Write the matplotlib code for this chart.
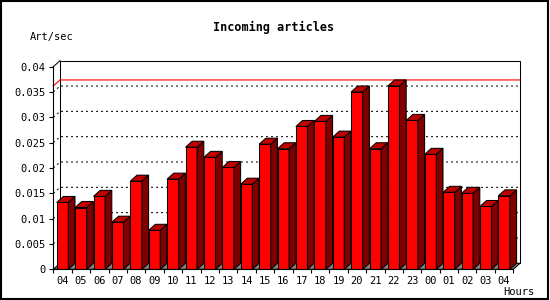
import matplotlib.pyplot as plt
from matplotlib.patches import Polygon, Rectangle
import numpy as np

# hourly values
hours = ["04", "05", "06", "07", "08", "09", "10", "11", "12", "13", "14", "15",
         "16", "17", "18", "19", "20", "21", "22", "23", "00", "01", "02", "03", "04"]
rates = [0.0132, 0.0122, 0.0144, 0.0093, 0.0174, 0.0077, 0.0178, 0.0241, 0.0221,
         0.0201, 0.0168, 0.0247, 0.0238, 0.0282, 0.0292, 0.0261, 0.0350, 0.0238,
         0.0362, 0.0294, 0.0227, 0.0152, 0.0150, 0.0124, 0.0145]
yticks = [0, 0.005, 0.01, 0.015, 0.02, 0.025, 0.03, 0.035, 0.04]
ytick_labels = ["0", "0.005", "0.01", "0.015", "0.02", "0.025", "0.03", "0.035", "0.04"]

FONT = "DejaVu Sans Mono"
W, H = 550, 300
fig = plt.figure(figsize=(5.5, 3), dpi=100)

# front plane of the 3d box in pixels
left, right, top, bottom = 53.3, 513.3, 66.7, 269.3
ax = fig.add_axes([left / W, (H - bottom) / H, (right - left) / W, (bottom - top) / H])
n = len(hours)
ymax = 0.04
ax.set_xlim(-0.5, n - 0.5)
ax.set_ylim(0, ymax)

# depth of the 3d effect, converted to data units
depth_px_x, depth_px_y = 6.7, 6.0
dx = depth_px_x * n / (right - left)
dy = depth_px_y * ymax / (bottom - top)
x0, x1 = -0.5, n - 0.5
LW = 0.75

# floor
floor = Polygon([(x0, 0), (x1, 0), (x1 + dx, dy), (x0 + dx, dy)], closed=True,
                facecolor="#808080", edgecolor="black", lw=LW, clip_on=False, zorder=1)
ax.add_patch(floor)
# back wall
ax.add_patch(Rectangle((x0 + dx, dy), x1 - x0, ymax, facecolor="white", edgecolor="black",
                       lw=LW, clip_on=False, zorder=0.5))
ax.plot([x0, x0 + dx], [ymax, ymax + dy], color="black", lw=LW, clip_on=False, zorder=2)

# dashed grid on back wall and left wall
for v in yticks[1:-1]:
    ax.plot([x0, x0 + dx, x1 + dx], [v, v + dy, v + dy], color="black", lw=0.72,
            dashes=(2, 3), clip_on=False, zorder=1.5)

# line at the maximum
peak = max(rates)
ax.plot([x0, x0 + dx, x1 + dx], [peak, peak + dy, peak + dy], color="red", lw=0.8,
        clip_on=False, zorder=1.6)

bw = 0.63
xs = np.arange(n)
for i, v in enumerate(rates):
    xl, xr = xs[i] - bw / 2, xs[i] + bw / 2
    ax.bar(xs[i], v, width=bw, color="#ff0000", edgecolor="black", lw=LW, zorder=3)
    side = Polygon([(xr, 0), (xr + dx, dy), (xr + dx, v + dy), (xr, v)], closed=True,
                   facecolor="#800000", edgecolor="black", lw=LW, zorder=3, clip_on=False)
    topf = Polygon([(xl, v), (xr, v), (xr + dx, v + dy), (xl + dx, v + dy)], closed=True,
                   facecolor="#c00000", edgecolor="black", lw=LW, zorder=3, clip_on=False)
    ax.add_patch(side)
    ax.add_patch(topf)

for s in ["top", "right"]:
    ax.spines[s].set_visible(False)
for s in ["left", "bottom"]:
    ax.spines[s].set_linewidth(0.8)
    ax.spines[s].set_zorder(4)

ax.set_yticks(yticks)
ax.set_yticklabels(ytick_labels, fontfamily=FONT, fontsize=7.5)
ax.tick_params(axis="y", direction="out", length=3, width=0.8, pad=2.5)
ax.set_xticks(xs)
ax.set_xticklabels(hours, fontfamily=FONT, fontsize=7.5)
ax.set_xticks(np.arange(n + 1) - 0.5, minor=True)
ax.tick_params(axis="x", which="major", length=0, pad=5)
ax.tick_params(axis="x", which="minor", direction="out", length=3, width=0.8)

fig.text(273.5 / W, 1 - 27 / H, "Incoming articles", fontfamily=FONT, fontweight="bold",
         fontsize=8.5, ha="center", va="center")
fig.text(30 / W, 1 - 37 / H, "Art/sec", fontfamily=FONT, fontsize=7.5, ha="left", va="center")
fig.text(535 / W, 1 - 292 / H, "Hours", fontfamily=FONT, fontsize=7.5, ha="right", va="center")

# outer frame
fig.patches.append(Rectangle((0.002, 0.003), 0.994, 0.994, transform=fig.transFigure,
                             fill=False, edgecolor="black", lw=1.5))

fig.savefig("out.png", dpi=100)
